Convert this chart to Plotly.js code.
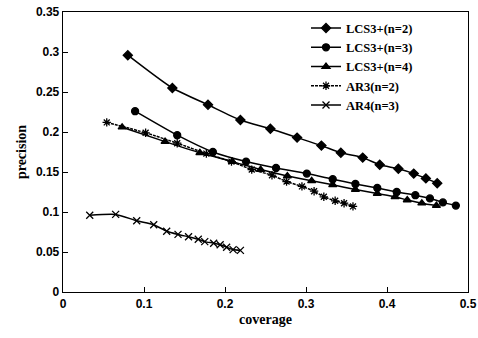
<!DOCTYPE html>
<html>
<head>
<meta charset="utf-8">
<script src="https://cdn.plot.ly/plotly-3.0.1.min.js"></script>
<style>html,body{margin:0;padding:0;background:#fff;}#chart{width:478px;height:338px;}</style>
</head>
<body>
<div id="chart"></div>
<script>
var seriesNames = ["LCS3+(n=2)", "LCS3+(n=3)", "LCS3+(n=4)", "AR3(n=2)", "AR4(n=3)"];

var lcs2X = [0.080, 0.135, 0.179, 0.219, 0.256, 0.289, 0.319, 0.343, 0.370, 0.391, 0.414, 0.433, 0.448, 0.462];
var lcs2Y = [0.296, 0.255, 0.234, 0.215, 0.204, 0.193, 0.183, 0.174, 0.168, 0.159, 0.154, 0.148, 0.142, 0.136];

var lcs3X = [0.089, 0.141, 0.185, 0.226, 0.263, 0.301, 0.333, 0.361, 0.388, 0.412, 0.435, 0.453, 0.469, 0.485];
var lcs3Y = [0.226, 0.196, 0.175, 0.163, 0.155, 0.148, 0.141, 0.135, 0.130, 0.125, 0.121, 0.117, 0.112, 0.108];

var lcs4X = [0.073, 0.126, 0.169, 0.209, 0.244, 0.277, 0.307, 0.333, 0.361, 0.388, 0.410, 0.425, 0.443, 0.461];
var lcs4Y = [0.206, 0.188, 0.174, 0.163, 0.153, 0.145, 0.139, 0.134, 0.128, 0.123, 0.119, 0.115, 0.111, 0.108];

var ar3X = [0.054, 0.102, 0.141, 0.177, 0.208, 0.233, 0.258, 0.276, 0.295, 0.310, 0.322, 0.336, 0.347, 0.358];
var ar3Y = [0.212, 0.199, 0.186, 0.173, 0.163, 0.153, 0.146, 0.138, 0.132, 0.126, 0.119, 0.114, 0.111, 0.107];

var ar4X = [0.033, 0.065, 0.091, 0.112, 0.128, 0.142, 0.155, 0.167, 0.175, 0.186, 0.194, 0.202, 0.210, 0.219];
var ar4Y = [0.096, 0.097, 0.089, 0.084, 0.076, 0.072, 0.069, 0.066, 0.063, 0.061, 0.059, 0.056, 0.053, 0.052];

var xTicks = [0, 0.1, 0.2, 0.3, 0.4, 0.5];
var xTickText = ["0", "0.1", "0.2", "0.3", "0.4", "0.5"];
var yTicks = [0, 0.05, 0.1, 0.15, 0.2, 0.25, 0.3, 0.35];
var yTickText = ["0", "0.05", "0.1", "0.15", "0.2", "0.25", "0.3", "0.35"];

function mk(name, x, y, sym, size, dash) {
  return {
    type: "scatter", mode: "lines+markers", name: name, x: x, y: y,
    line: {color: "#000", width: 1.5, shape: "spline", smoothing: 0.6, dash: dash || "solid"},
    marker: {symbol: sym, size: size, color: "#000", line: {color: "#000", width: 1.3}}
  };
}

var data = [
  mk(seriesNames[0], lcs2X, lcs2Y, "diamond", 7),
  mk(seriesNames[1], lcs3X, lcs3Y, "circle", 7),
  mk(seriesNames[2], lcs4X, lcs4Y, "triangle-up", 7),
  mk(seriesNames[3], ar3X, ar3Y, "asterisk-open", 7, "3px,1px"),
  mk(seriesNames[4], ar4X, ar4Y, "x-thin-open", 7)
];

var tickFont = {family: "Liberation Sans, Arial, sans-serif", size: 12, color: "#000", weight: "bold"};
var titleFont = {family: "Liberation Serif, Times New Roman, serif", size: 14, color: "#000", weight: "bold"};

var layout = {
  width: 478, height: 338,
  margin: {l: 63, r: 10, t: 12, b: 46},
  paper_bgcolor: "#fff", plot_bgcolor: "#fff",
  showlegend: true,
  legend: {
    x: 0.60, y: 0.995, xanchor: "left", yanchor: "top",
    bgcolor: "rgba(0,0,0,0)", borderwidth: 0,
    font: {family: "Liberation Serif, Times New Roman, serif", size: 12.5, color: "#000", weight: "bold"},
    itemwidth: 30, tracegroupgap: 0
  },
  xaxis: {
    range: [0, 0.5], tickvals: xTicks, ticktext: xTickText,
    showgrid: false, zeroline: false, showline: true, linecolor: "#000", linewidth: 1.3,
    mirror: true, ticks: "inside", ticklen: 5, tickcolor: "#000", tickwidth: 1,
    tickfont: tickFont,
    title: {text: "coverage", font: titleFont, standoff: 4}
  },
  yaxis: {
    range: [0, 0.35], tickvals: yTicks, ticktext: yTickText,
    showgrid: false, zeroline: false, showline: true, linecolor: "#000", linewidth: 1.3,
    mirror: true, ticks: "inside", ticklen: 5, tickcolor: "#000", tickwidth: 1,
    tickfont: tickFont,
    title: {text: "precision", font: titleFont, standoff: 6}
  }
};

Plotly.newPlot("chart", data, layout, {displayModeBar: false, staticPlot: true});
</script>
</body>
</html>
